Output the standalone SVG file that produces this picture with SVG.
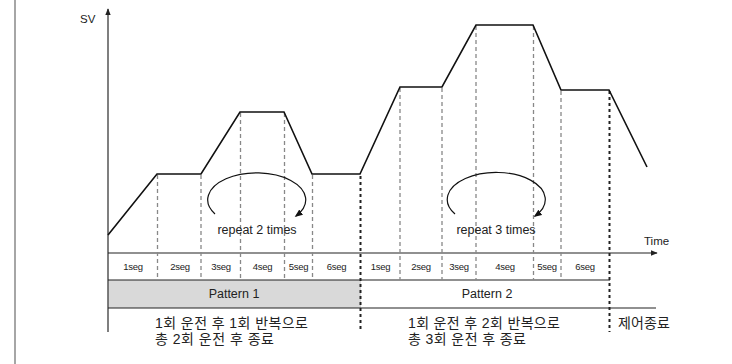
<svg xmlns="http://www.w3.org/2000/svg" width="732" height="364" viewBox="0 0 732 364">
<style>
.t{font-family:"Liberation Sans",Arial,sans-serif;fill:#222}
.seg{font-size:9.5px;text-anchor:middle;letter-spacing:-0.3px}
.pat{font-size:12.5px;text-anchor:middle}
.kr{font-family:"Liberation Sans","Noto Sans CJK KR",sans-serif;font-size:14px;fill:#222}
.ax{stroke:#222;stroke-width:1.2;fill:none}
.dash{stroke:#888;stroke-width:1.3;stroke-dasharray:4 3;fill:none}
.bdash{stroke:#222;stroke-width:2;stroke-dasharray:3 3;fill:none}
.curve{stroke:#111;stroke-width:1.6;fill:none;stroke-linejoin:miter}
.rep{stroke:#111;stroke-width:1.2;fill:none}
</style>
<defs>
<marker id="ah" viewBox="0 0 10 10" refX="9" refY="5" markerWidth="7" markerHeight="7" orient="auto" markerUnits="userSpaceOnUse">
<path d="M0,1 L10,5 L0,9 Z" fill="#222"/>
</marker>
<marker id="ah2" viewBox="0 0 10 10" refX="8" refY="5" markerWidth="8" markerHeight="8" orient="auto" markerUnits="userSpaceOnUse">
<path d="M0,1 L10,5 L0,9 Z" fill="#111"/>
</marker>
</defs>
<rect width="732" height="364" fill="#fff"/>
<line x1="15" y1="0" x2="15" y2="364" stroke="#888" stroke-width="1.5"/>

<g id="pattern1-box">
<rect x="108" y="280" width="253" height="28" fill="#d9d9d9"/>
<text class="t pat" x="234" y="298">Pattern 1</text>
</g>
<g id="pattern2-box">
<text class="t pat" x="487" y="298">Pattern 2</text>
</g>

<g id="connectors">
<line x1="108" y1="332" x2="108" y2="9" stroke="#555" stroke-width="1.5" marker-end="url(#ah)"/>
<line class="ax" x1="108" y1="253" x2="657" y2="253" marker-end="url(#ah)"/>
<line class="ax" x1="108" y1="280" x2="610" y2="280"/>
<line class="ax" x1="108" y1="308" x2="656" y2="308"/>
<g>
<line class="dash" x1="157.5" y1="175" x2="157.5" y2="280"/>
<line class="dash" x1="201" y1="175" x2="201" y2="280"/>
<line class="dash" x1="240.5" y1="113" x2="240.5" y2="280"/>
<line class="dash" x1="284.5" y1="113" x2="284.5" y2="280"/>
<line class="dash" x1="312.5" y1="175" x2="312.5" y2="280"/>
<line class="dash" x1="400" y1="88" x2="400" y2="280"/>
<line class="dash" x1="442" y1="88" x2="442" y2="280"/>
<line class="dash" x1="476" y1="26" x2="476" y2="280"/>
<line class="dash" x1="533.5" y1="26" x2="533.5" y2="280"/>
<line class="dash" x1="561" y1="91" x2="561" y2="280"/>
<line class="bdash" x1="360.5" y1="176" x2="360.5" y2="332"/>
<line class="bdash" x1="609.5" y1="91" x2="609.5" y2="332"/>
</g>
<polyline class="curve" points="108,235 157,174 201,174 240,112 284,112 312,174 360,174 400,87 442,87 476,25 533,25 561,90 609,90 647,167"/>
<path class="rep" d="M215,214 A49 27 0 1 1 296,216" marker-end="url(#ah2)"/>
<path class="rep" d="M455,214 A49 27 0 1 1 535,216" marker-end="url(#ah2)"/>
</g>

<g id="labels">
<text class="t" x="80" y="23" font-size="11.5">SV</text>
<text class="t" x="644" y="245" font-size="11.5">Time</text>
<text class="t" x="257" y="234" font-size="12.5" text-anchor="middle">repeat 2 times</text>
<text class="t" x="496" y="234" font-size="12.5" text-anchor="middle">repeat 3 times</text>
</g>

<g id="segs1">
<text class="t seg" x="133" y="270">1seg</text>
<text class="t seg" x="180" y="270">2seg</text>
<text class="t seg" x="221" y="270">3seg</text>
<text class="t seg" x="262.5" y="270">4seg</text>
<text class="t seg" x="298.5" y="270">5seg</text>
<text class="t seg" x="336.5" y="270">6seg</text>
</g>
<g id="segs2">
<text class="t seg" x="380.5" y="270">1seg</text>
<text class="t seg" x="421" y="270">2seg</text>
<text class="t seg" x="459" y="270">3seg</text>
<text class="t seg" x="505" y="270">4seg</text>
<text class="t seg" x="547" y="270">5seg</text>
<text class="t seg" x="585" y="270">6seg</text>
</g>

<g id="desc1">
<text class="kr" x="155" y="328" textLength="153" lengthAdjust="spacing">1회 운전 후 1회 반복으로</text>
<text class="kr" x="155" y="344" textLength="119" lengthAdjust="spacing">총 2회 운전 후 종료</text>
</g>
<g id="desc2">
<text class="kr" x="408" y="328" textLength="152" lengthAdjust="spacing">1회 운전 후 2회 반복으로</text>
<text class="kr" x="408" y="344" textLength="118" lengthAdjust="spacing">총 3회 운전 후 종료</text>
</g>
<g id="end">
<text class="kr" x="618" y="328" textLength="52" lengthAdjust="spacing">제어종료</text>
</g>
</svg>
